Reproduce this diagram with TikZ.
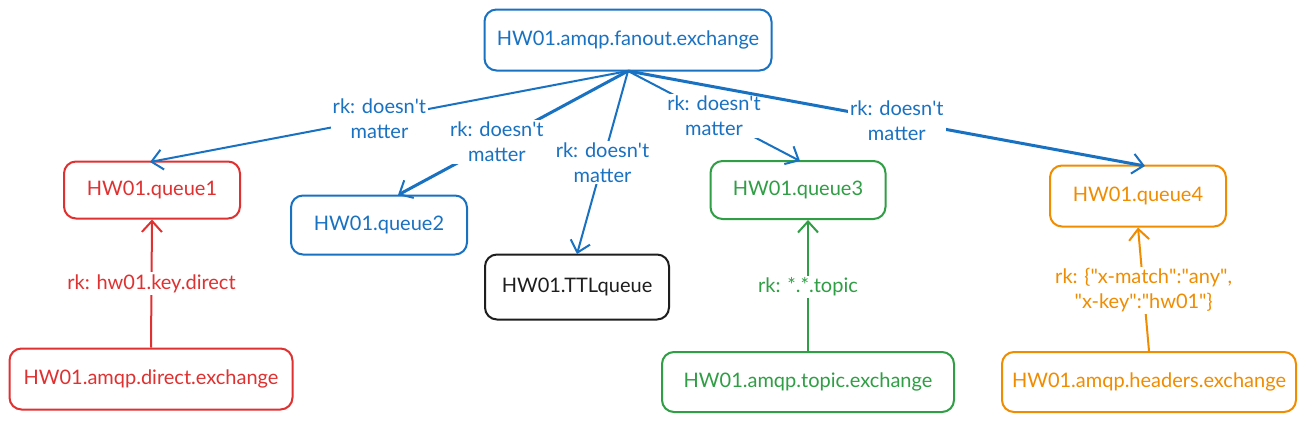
\documentclass[tikz,border=0pt]{standalone}
\usepackage{fontspec}
\setmainfont{Lato}
\usetikzlibrary{arrows.meta}
\definecolor{cblue}{HTML}{1971C2}
\definecolor{cred}{HTML}{E03131}
\definecolor{cgreen}{HTML}{2F9E44}
\definecolor{corange}{HTML}{F08C00}
\definecolor{cblack}{HTML}{1E1E1E}
\newcommand{\apos}{\textquotesingle}
\newcommand{\dq}{\textquotedbl}
\tikzset{
  box/.style={draw=#1, text=#1, line width=2pt, rounded corners=12pt, fill=white, align=center,
    font=\fontsize{20}{25}\selectfont, inner sep=0pt},
  lbl/.style={fill=white, text=#1, align=center, font=\fontsize{20}{25}\selectfont, inner sep=2pt},
  arr/.style={draw=#1, line width=2pt, -{Straight Barb[length=11pt,width=20pt,line width=2pt]}},
}
\begin{document}
\begin{tikzpicture}[x=1pt,y=-1pt]
\useasboundingbox[fill=white] (0,0) rectangle (1306,423);
% boxes
\node[box=cblue, minimum width=287pt, minimum height=61pt] (fan) at (628,40) {HW01.amqp.fanout.exchange};
\node[box=cred, minimum width=176pt, minimum height=57pt] (q1) at (152,190) {HW01.queue1};
\node[box=cblue, minimum width=176pt, minimum height=59pt] (q2) at (379,225) {HW01.queue2};
\node[box=cblack, minimum width=184pt, minimum height=65pt] (ttl) at (577,287) {HW01.TTLqueue};
\node[box=cgreen, minimum width=175pt, minimum height=58pt] (q3) at (798,190) {HW01.queue3};
\node[box=corange, minimum width=176pt, minimum height=61pt] (q4) at (1138,196) {HW01.queue4};
\node[box=cred, minimum width=283pt, minimum height=61pt] (dex) at (151,379) {HW01.amqp.direct.exchange};
\node[box=cgreen, minimum width=292pt, minimum height=60pt] (tex) at (808,382) {HW01.amqp.topic.exchange};
\node[box=corange, minimum width=294pt, minimum height=60pt] (hex) at (1149,382) {HW01.amqp.headers.exchange};
% anchor points on borders
\coordinate (f) at (628,71);
\coordinate (q1t) at (150,162);
\coordinate (q2t) at (398,195);
\coordinate (ttlt) at (577,254);
\coordinate (q3t) at (800,161);
\coordinate (q4t) at (1145,166);
% fanout arrows
\draw[arr=cblue] (f) -- (q1t) node[lbl=cblue, pos=0.52] (l1) {rk: doesn\apos t\\matter};
\draw[arr=cblue, line width=3pt] (f) -- (q2t) node[lbl=cblue, pos=0.57] (l2) {rk: doesn\apos t\\matter};
\draw[arr=cblue] (f) -- (ttlt) node[lbl=cblue, pos=0.5] (l3) {rk: doesn\apos t\\matter};
\draw[arr=cblue] (f) -- (q3t) node[lbl=cblue, pos=0.5] (l4) {rk: doesn\apos t\\matter};
\draw[arr=cblue, line width=3pt] (f) -- (q4t) node[lbl=cblue, pos=0.52] (l5) {rk: doesn\apos t\\matter};
% bottom arrows
\draw[arr=cred] (dex.north) -- (q1.south) node[lbl=cred, midway] (l6) {rk: hw01.key.direct};
\draw[arr=cgreen] (tex.north) -- (q3.south -| tex.north) node[lbl=cgreen, pos=0.49] (l7) {rk: *.*.topic};
\draw[arr=corange] (hex.north) -- (q4.south) node[lbl=corange, pos=0.49] (l8) {rk: \{\dq x-match\dq:\dq any\dq,\\\dq x-key\dq:\dq hw01\dq\}};
\end{tikzpicture}
\end{document}
